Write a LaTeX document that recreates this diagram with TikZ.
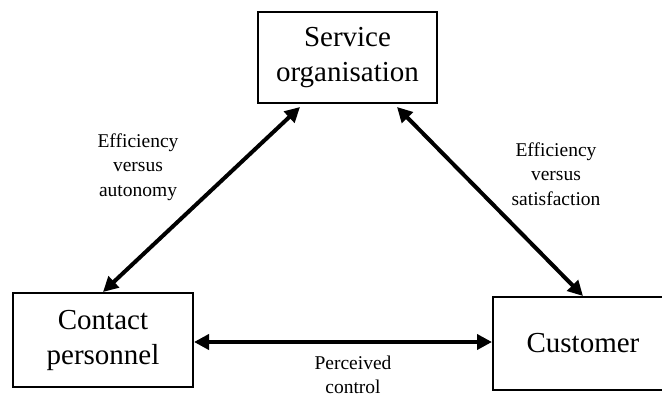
\documentclass[tikz,border=0pt]{standalone}
\usepackage{fontspec}
\setmainfont{Liberation Serif}
\usetikzlibrary{arrows.meta}
\tikzset{
  box/.style={draw, line width=2pt, inner sep=0pt, align=center,
    font=\fontsize{29}{35}\selectfont},
  link/.style={line width=4pt, {Triangle[length=15pt,width=15pt]}-{Triangle[length=15pt,width=15pt]}},
  lbl/.style={align=center, font=\fontsize{19.5}{24.5}\selectfont}
}
\begin{document}
\begin{tikzpicture}[x=1pt,y=-1pt]
\useasboundingbox (0,0) rectangle (662,397);
\clip (0,0) rectangle (662,397);
\node[box, minimum width=179pt, minimum height=91pt] (org) at (347.5,57.5) {Service\\organisation};
\node[box, minimum width=180pt, minimum height=94pt] (contact) at (103,340) {Contact\\personnel};
\node[box, minimum width=180pt, minimum height=93pt] (cust) at (583,343.5) {Customer};
\draw[link] (contact.north) -- ([xshift=-47.5pt,yshift=-3pt]org.south);
\draw[link] ([xshift=49.5pt,yshift=-3pt]org.south) -- (cust.north);
\draw[link] ([yshift=-2pt]contact.east) -- ([yshift=-2pt]contact.east -| cust.west);
\node[lbl] (la) at (138,167) {Efficiency\\versus\\autonomy};
\node[lbl] (ls) at (556,174) {Efficiency\\versus\\satisfaction};
\node[lbl] (lp) at (353,375) {Perceived\\control};
\end{tikzpicture}
\end{document}
